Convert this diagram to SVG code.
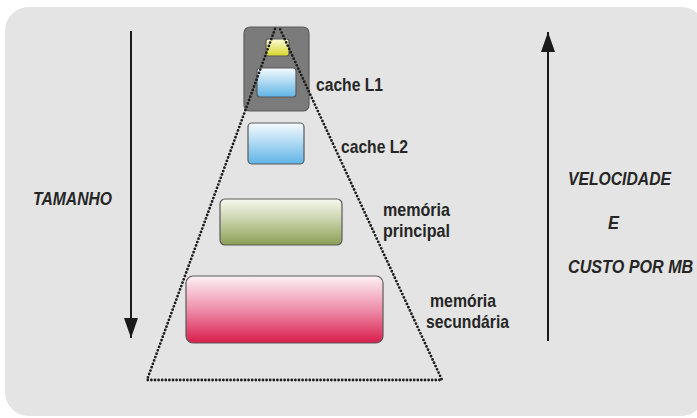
<svg xmlns="http://www.w3.org/2000/svg" width="697" height="418" viewBox="0 0 697 418">
  <defs>
    <linearGradient id="gYellow" x1="0" y1="0" x2="0" y2="1">
      <stop offset="0" stop-color="#fbfbd8"/>
      <stop offset="1" stop-color="#d6d629"/>
    </linearGradient>
    <linearGradient id="gBlue" x1="0" y1="0" x2="0" y2="1">
      <stop offset="0" stop-color="#f6fbfe"/>
      <stop offset="1" stop-color="#5fb4e6"/>
    </linearGradient>
    <linearGradient id="gGreen" x1="0" y1="0" x2="0" y2="1">
      <stop offset="0" stop-color="#f6f8ef"/>
      <stop offset="0.45" stop-color="#c9d3ac"/>
      <stop offset="1" stop-color="#8c9f55"/>
    </linearGradient>
    <linearGradient id="gRed" x1="0" y1="0" x2="0" y2="1">
      <stop offset="0" stop-color="#fcf1f5"/>
      <stop offset="0.5" stop-color="#ee8eaa"/>
      <stop offset="1" stop-color="#d91c4b"/>
    </linearGradient>
    <marker id="arrowHead" viewBox="0 0 20 14" refX="20" refY="7" markerWidth="20" markerHeight="14" markerUnits="userSpaceOnUse" orient="auto">
      <path d="M0,0 L20,7 L0,14 Z" fill="#1a1a1a"/>
    </marker>
    <style>
      .lbl { font-family: "Liberation Sans", Arial, sans-serif; font-weight: bold; font-size: 19px; fill: #262626; }
      .ital { font-style: italic; }
      .box { stroke: #5a5a5a; stroke-width: 1.2; }
      .dots { fill: none; stroke: #1e1e1e; stroke-width: 2.8; stroke-linecap: round; stroke-dasharray: 0 3.6; }
      .axis { stroke: #1a1a1a; stroke-width: 2; fill: none; }
    </style>
  </defs>

  <!-- panel background -->
  <rect x="5" y="7" width="700" height="409" rx="24" fill="#e4e4e4"/>

  <!-- processor block containing the first levels -->
  <g id="cpu">
    <rect x="244" y="27" width="65" height="84" rx="6" fill="#7b7b7b" stroke="#5c5c5c" stroke-width="1.2"/>
  </g>
  <g id="registers">
    <rect class="box" x="266" y="39" width="23" height="17" rx="2.5" fill="url(#gYellow)"/>
  </g>
  <g id="cacheL1">
    <rect class="box" x="257" y="68" width="39" height="29" rx="3" fill="url(#gBlue)"/>
    <text class="lbl" x="316" y="91" textLength="67" lengthAdjust="spacingAndGlyphs">cache L1</text>
  </g>
  <g id="cacheL2">
    <rect class="box" x="248" y="123" width="56" height="41" rx="4" fill="url(#gBlue)"/>
    <text class="lbl" x="341" y="153" textLength="67" lengthAdjust="spacingAndGlyphs">cache L2</text>
  </g>
  <g id="memoriaPrincipal">
    <rect class="box" x="220" y="199" width="122" height="46" rx="5" fill="url(#gGreen)"/>
    <text class="lbl" x="383" y="216" textLength="67" lengthAdjust="spacingAndGlyphs">memória</text>
    <text class="lbl" x="383" y="237" textLength="67" lengthAdjust="spacingAndGlyphs">principal</text>
  </g>
  <g id="memoriaSecundaria">
    <rect class="box" x="186" y="276" width="197" height="67" rx="7" fill="url(#gRed)"/>
    <text class="lbl" x="430" y="307" textLength="66" lengthAdjust="spacingAndGlyphs">memória</text>
    <text class="lbl" x="426" y="328" textLength="83" lengthAdjust="spacingAndGlyphs">secundária</text>
  </g>

  <!-- dotted pyramid outline and the two axes -->
  <g id="connectors">
    <path class="dots" d="M275,29 L147,380 L442,380 L280,29"/>
    <line class="axis" x1="131" y1="31" x2="131" y2="338" marker-end="url(#arrowHead)"/>
    <line class="axis" x1="548" y1="341" x2="548" y2="32" marker-end="url(#arrowHead)"/>
  </g>

  <g id="tamanho">
    <text class="lbl ital" x="33" y="205" textLength="79" lengthAdjust="spacingAndGlyphs">TAMANHO</text>
  </g>
  <g id="velocidadeCusto">
    <text class="lbl ital" x="568" y="185" textLength="103" lengthAdjust="spacingAndGlyphs">VELOCIDADE</text>
    <text class="lbl ital" x="608" y="229" textLength="11" lengthAdjust="spacingAndGlyphs">E</text>
    <!-- narrowed with a horizontal scale so it stays inside the panel -->
    <text class="lbl ital" transform="translate(568,273) scale(0.85,1)">CUSTO POR MB</text>
  </g>
</svg>
